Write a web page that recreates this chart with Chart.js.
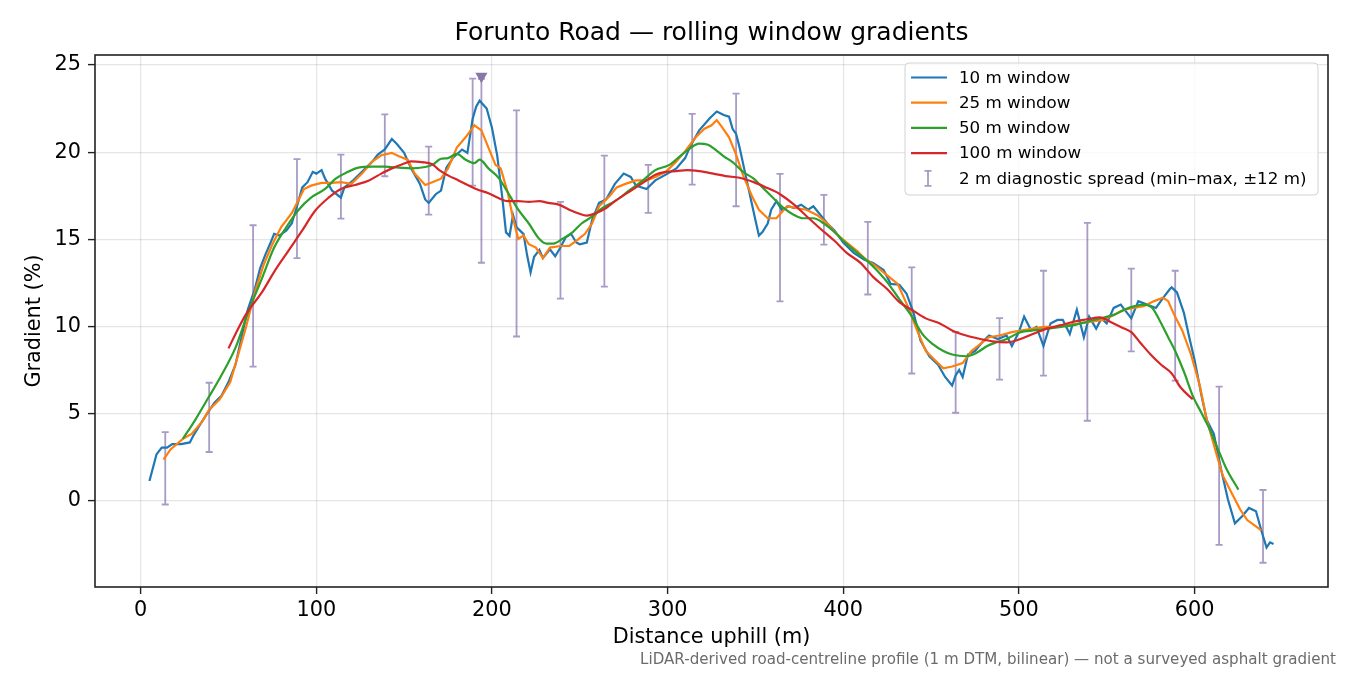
<!DOCTYPE html>
<html>
<head>
<meta charset="utf-8">
<script src="https://cdn.jsdelivr.net/npm/chart.js@4.4.1/dist/chart.umd.min.js"></script>
<style>
  html, body { margin: 0; padding: 0; background: #fff; }
  #wrap { width: 1350px; height: 675px; }
</style>
</head>
<body>
<div id="wrap"><canvas id="grad" width="1350" height="675"></canvas></div>
<script>
// distances (m) and gradients (%), per rolling window
const dist10 = [5,9,12,15,18,23,28,30,33,38,42,46,50,54,57,61,65,68,71,74,76,79,83,86,89,92,95,98,100,103,105,109,114,116,121,126,132,135,139,143,146,150,154,159,162,164,168,171,174,178,183,186,189,191,193,197,200,203,206,208,210,212,214,216,218,220,222,224,227,229,233,236,239,242,245,248,250,254,257,261,265,270,275,279,282,288,293,300,305,310,313,318,324,328,332,335,337,339,341,344,347,350,352,354,357,359,362,365,369,372,376,380,383,387,391,395,400,406,412,417,423,427,432,436,440,444,449,454,458,462,464,466,468,471,475,479,483,488,493,496,500,503,507,510,514,518,522,525,529,533,537,540,544,547,550,554,558,564,568,573,578,583,586,587,590,594,597,600,604,607,611,615,619,623,627,631,635,638,641,643,645];
const grad10 = [1.15,2.67,3.06,3.06,3.26,3.26,3.36,3.75,4.25,5.04,5.63,6.03,6.82,7.81,9.19,10.97,12.15,13.34,14.13,14.82,15.32,15.22,15.51,15.91,16.9,17.98,18.28,18.87,18.77,18.97,18.48,17.79,17.39,17.98,18.38,18.87,19.47,19.86,20.16,20.75,20.45,19.96,19.07,18.18,17.29,17.09,17.59,17.8,19.1,19.7,20.15,19.96,21.9,22.6,22.95,22.5,21.4,19.8,17.3,15.4,15.2,16.4,15.7,15.5,15.3,14.1,13.1,14.0,14.4,13.93,14.43,14.03,14.53,15.12,15.32,14.82,14.72,14.82,16.11,17.09,17.29,18.18,18.77,18.58,18.08,17.89,18.38,18.77,19.07,19.66,20.36,21.25,21.94,22.33,22.13,22.04,21.34,21.05,20.26,18.87,17.49,16.11,15.22,15.42,15.91,16.7,17.19,16.7,16.9,16.8,16.99,16.7,16.9,16.4,15.91,15.51,14.82,14.23,13.83,13.64,13.24,12.45,12.4,11.9,10.8,9.19,8.3,7.81,7.11,6.62,7.21,7.51,7.11,8.4,8.6,9.09,9.49,9.29,9.49,8.89,9.68,10.57,9.78,9.98,8.89,10.18,10.38,10.38,9.58,10.97,9.39,10.57,9.88,10.47,10.18,11.07,11.26,10.47,11.46,11.26,11.07,11.76,12.15,12.25,11.96,10.77,9.39,8.1,6.03,4.64,3.85,1.88,0.1,-1.28,-0.89,-0.4,-0.59,-1.68,-2.67,-2.37,-2.47];

const dist25 = [13,17,24,29,35,39,45,51,55,60,65,70,75,80,86,90,93,97,103,109,114,120,126,132,137,143,147,152,156,162,166,171,175,180,185,190,194,198,202,205,209,212,215,218,221,225,229,233,239,244,248,253,257,261,267,271,276,282,288,293,299,305,310,316,321,325,328,331,335,339,343,348,352,357,362,368,373,379,385,391,396,402,408,413,419,425,431,437,442,447,453,457,462,468,473,478,483,489,496,502,508,514,522,527,535,541,548,554,560,565,571,577,582,585,588,593,598,603,607,612,616,621,626,630,634,638];
const grad25 = [2.37,2.96,3.56,3.85,4.55,5.24,5.83,6.82,8.2,9.98,11.96,13.54,14.72,15.71,16.5,17.29,17.89,18.08,18.24,18.24,18.28,18.18,18.77,19.47,19.82,19.96,19.76,19.57,18.77,18.12,18.28,18.48,19.07,20.26,20.85,21.54,21.25,20.26,19.27,19.07,17.69,16.2,15.02,15.22,14.72,14.53,13.93,14.53,14.62,14.62,14.92,15.32,15.91,16.9,17.49,17.98,18.18,18.38,18.38,18.58,18.87,19.47,20.06,20.85,21.34,21.54,21.84,21.44,20.85,19.86,18.67,17.49,16.7,16.21,16.21,16.9,16.8,16.7,16.4,15.91,15.32,14.82,14.33,13.83,13.44,12.94,12.45,11.1,9.8,8.6,8.0,7.61,7.71,7.91,8.6,8.99,9.39,9.49,9.68,9.78,9.88,9.98,9.98,10.08,10.18,10.28,10.38,10.67,10.97,11.07,11.17,11.46,11.66,11.46,10.77,9.78,8.4,6.62,4.64,2.87,1.48,0.49,-0.49,-1.09,-1.38,-1.68];

const dist50 = [24,31,38,46,54,61,69,76,83,90,97,105,111,118,124,132,139,147,154,162,166,171,175,180,185,190,193,198,204,209,215,221,227,231,235,240,246,251,257,263,270,278,286,293,301,307,312,318,323,327,332,337,343,349,354,360,366,372,377,383,389,395,400,408,414,419,425,432,439,445,451,457,462,470,476,482,487,493,501,508,516,524,531,539,546,554,560,566,571,576,580,585,589,594,599,604,608,613,618,625];
const grad50 = [3.56,4.64,5.83,7.21,8.79,10.77,12.75,14.53,15.71,16.7,17.39,17.89,18.48,18.87,19.11,19.17,19.17,19.11,19.07,19.15,19.27,19.62,19.66,19.9,19.57,19.37,19.57,19.07,18.5,17.7,16.7,15.91,15.02,14.76,14.76,15.02,15.42,15.91,16.3,16.8,17.19,17.79,18.38,18.97,19.27,19.76,20.16,20.49,20.42,20.16,19.76,19.43,18.87,18.48,17.98,17.39,16.8,16.4,16.21,16.21,15.91,15.42,14.92,14.23,13.74,13.24,12.55,11.56,10.6,9.58,8.99,8.6,8.4,8.3,8.5,8.89,9.09,9.29,9.68,9.78,9.88,9.98,10.08,10.28,10.47,10.67,10.97,11.17,11.26,11.07,10.38,9.39,8.6,7.41,6.03,5.04,4.25,3.06,1.88,0.65];

const dist100 = [50,56,61,69,76,84,92,99,107,114,122,130,137,143,149,154,160,166,170,175,181,187,192,198,204,209,215,221,227,232,238,244,249,254,259,265,270,276,282,288,293,299,305,311,318,326,333,341,349,356,364,372,379,387,395,402,410,417,425,432,440,447,455,462,470,478,485,493,501,508,516,524,531,539,546,552,558,564,569,575,581,587,592,599];
const grad100 = [8.75,9.98,10.87,11.96,13.14,14.33,15.51,16.6,17.39,17.89,18.12,18.38,18.77,19.07,19.31,19.47,19.43,19.31,18.97,18.67,18.38,18.08,17.85,17.65,17.36,17.19,17.19,17.15,17.19,17.09,16.99,16.7,16.5,16.36,16.5,16.8,17.19,17.59,17.98,18.38,18.71,18.87,18.91,18.97,18.91,18.77,18.63,18.53,18.28,17.98,17.59,16.99,16.34,15.61,14.92,14.23,13.64,12.85,12.15,11.4,10.9,10.47,10.18,9.78,9.49,9.29,9.15,9.09,9.29,9.58,9.88,10.08,10.28,10.42,10.53,10.28,9.98,9.68,9.09,8.4,7.81,7.31,6.52,5.83];

// 2 m diagnostic spread: min/max within +-12 m
const spreadX  = [14,39,64,89,114,139,164,189,194,214,239,264,289,314,339,364,389,414,439,464,489,514,539,564,589,614,639];
const spreadLo = [-0.2,2.81,7.71,13.93,16.19,18.62,16.42,18.08,13.66,9.43,11.6,12.29,16.52,18.14,16.9,11.44,14.7,11.84,7.31,5.06,6.96,7.19,4.6,8.58,6.9,-2.51,-3.54];
const spreadHi = [3.95,6.78,15.81,19.6,19.86,22.17,20.32,24.21,24.2,22.39,17.15,19.8,19.27,22.19,23.36,18.75,17.55,16.0,13.4,9.7,10.49,13.2,15.95,13.32,13.2,6.56,0.63];

// steepest point marker
const peakX = [194];
const peakY = [24.35];

const xTicks = [0, 100, 200, 300, 400, 500, 600];
const yTicks = [0, 5, 10, 15, 20, 25];

const seriesLabels = ["10 m window", "25 m window", "50 m window", "100 m window"];
const seriesColors = ["#1f77b4", "#ff7f0e", "#2ca02c", "#d62728"];
const spreadLabel = "2 m diagnostic spread (min\u2013max, \u00b112 m)";
const spreadColor = "rgba(110, 88, 160, 0.6)";
const FONT = '"DejaVu Sans", "Liberation Sans", sans-serif';

const pts = (xs, ys) => xs.map((x, i) => ({ x, y: ys[i] }));

const lineSet = (i, xs, ys, smooth) => ({
  type: "line",
  label: seriesLabels[i],
  data: pts(xs, ys),
  borderColor: seriesColors[i],
  backgroundColor: seriesColors[i],
  borderWidth: 2.2,
  pointRadius: 0,
  tension: 0,
  cubicInterpolationMode: smooth ? "monotone" : "default",
  order: 4 - i
});

// error bars, legend box, frame and footnote
const spreadPlugin = {
  id: "spread",
  beforeDatasetsDraw(chart) {
    const { ctx, chartArea, scales: { x, y } } = chart;
    ctx.save();
    ctx.beginPath();
    ctx.rect(chartArea.left, chartArea.top, chartArea.right - chartArea.left, chartArea.bottom - chartArea.top);
    ctx.clip();
    ctx.strokeStyle = spreadColor;
    ctx.lineWidth = 1.8;
    spreadX.forEach((v, i) => {
      const px = x.getPixelForValue(v);
      const lo = y.getPixelForValue(spreadLo[i]);
      const hi = y.getPixelForValue(spreadHi[i]);
      ctx.beginPath();
      ctx.moveTo(px, lo); ctx.lineTo(px, hi);
      ctx.moveTo(px - 3.5, lo); ctx.lineTo(px + 3.5, lo);
      ctx.moveTo(px - 3.5, hi); ctx.lineTo(px + 3.5, hi);
      ctx.stroke();
    });
    ctx.restore();
  },
  afterDatasetsDraw(chart) {
    const { ctx, chartArea } = chart;
    const w = 413, h = 132;
    const left = chartArea.right - 10 - w, top = chartArea.top + 8;
    ctx.save();
    ctx.beginPath();
    ctx.roundRect(left, top, w, h, 4);
    ctx.fillStyle = "rgba(255,255,255,0.8)";
    ctx.fill();
    ctx.strokeStyle = "#d2d2d2";
    ctx.lineWidth = 1;
    ctx.stroke();
    ctx.font = "16.7px " + FONT;
    ctx.textBaseline = "middle";
    ctx.fillStyle = "#000";
    const rowY = i => top + 14.5 + i * 25.2;
    seriesLabels.forEach((lab, i) => {
      ctx.strokeStyle = seriesColors[i];
      ctx.lineWidth = 2.2;
      ctx.beginPath();
      ctx.moveTo(left + 6, rowY(i)); ctx.lineTo(left + 42, rowY(i));
      ctx.stroke();
      ctx.fillText(lab, left + 54, rowY(i) + 1);
    });
    const ey = rowY(4), ex = left + 23;
    ctx.strokeStyle = spreadColor;
    ctx.lineWidth = 1.8;
    ctx.beginPath();
    ctx.moveTo(ex, ey - 7.5); ctx.lineTo(ex, ey + 7.5);
    ctx.moveTo(ex - 3.5, ey - 7.5); ctx.lineTo(ex + 3.5, ey - 7.5);
    ctx.moveTo(ex - 3.5, ey + 7.5); ctx.lineTo(ex + 3.5, ey + 7.5);
    ctx.stroke();
    ctx.fillText(spreadLabel, left + 54, ey + 1);

    ctx.strokeStyle = "#222";
    ctx.lineWidth = 1.6;
    ctx.strokeRect(chartArea.left, chartArea.top, chartArea.right - chartArea.left, chartArea.bottom - chartArea.top);
    ctx.restore();
  },
  afterDraw(chart) {
    const ctx = chart.ctx;
    ctx.save();
    ctx.font = "15.1px " + FONT;
    ctx.fillStyle = "#6b6b6b";
    ctx.textAlign = "right";
    ctx.textBaseline = "middle";
    ctx.fillText("LiDAR-derived road-centreline profile (1 m DTM, bilinear) \u2014 not a surveyed asphalt gradient", 1336, 660);
    ctx.restore();
  }
};

new Chart(document.getElementById("grad"), {
  type: "line",
  data: {
    datasets: [
      lineSet(0, dist10, grad10, false),
      lineSet(1, dist25, grad25, false),
      lineSet(2, dist50, grad50, true),
      lineSet(3, dist100, grad100, true),
      {
        type: "scatter",
        label: "peak",
        data: pts(peakX, peakY),
        pointStyle: "triangle",
        rotation: 180,
        pointRadius: 7,
        backgroundColor: "#8677a8",
        borderColor: "#8677a8",
        borderWidth: 0,
        order: 0
      }
    ]
  },
  options: {
    responsive: false,
    devicePixelRatio: 1,
    animation: false,
    layout: { padding: { left: 0, right: 22, top: 0, bottom: 0 } },
    plugins: {
      legend: { display: false },
      tooltip: { enabled: false },
      title: {
        display: true,
        fullSize: false,
        text: "Forunto Road \u2014 rolling window gradients",
        color: "#000",
        font: { family: FONT, size: 25, weight: "normal" },
        padding: { top: 18, bottom: 7 }
      }
    },
    scales: {
      x: {
        type: "linear",
        min: -26,
        max: 676,
        afterBuildTicks: s => { s.ticks = xTicks.map(v => ({ value: v })); },
        afterFit: s => { s.height = 88; },
        border: { display: false },
        grid: { color: "rgba(0,0,0,0.1)", lineWidth: 1.2, tickLength: 7, tickColor: "#222", tickWidth: 1.4 },
        ticks: { padding: 4, color: "#000", maxRotation: 0, autoSkip: false, font: { family: FONT, size: 20.8 } },
        title: { display: true, text: "Distance uphill (m)", color: "#000", font: { family: FONT, size: 20.8 }, padding: { top: 0, bottom: 24.5 } }
      },
      y: {
        type: "linear",
        min: -4.93,
        max: 25.57,
        afterBuildTicks: s => { s.ticks = yTicks.map(v => ({ value: v })); },
        afterFit: s => { s.width = 95; },
        border: { display: false },
        grid: { color: "rgba(0,0,0,0.1)", lineWidth: 1.2, tickLength: 7, tickColor: "#222", tickWidth: 1.4 },
        ticks: { padding: 7, color: "#000", autoSkip: false, font: { family: FONT, size: 20.8 } },
        title: { display: true, text: "Gradient (%)", color: "#000", font: { family: FONT, size: 20.8 }, padding: { top: 22, bottom: 0 } }
      }
    }
  },
  plugins: [spreadPlugin]
});
</script>
</body>
</html>
